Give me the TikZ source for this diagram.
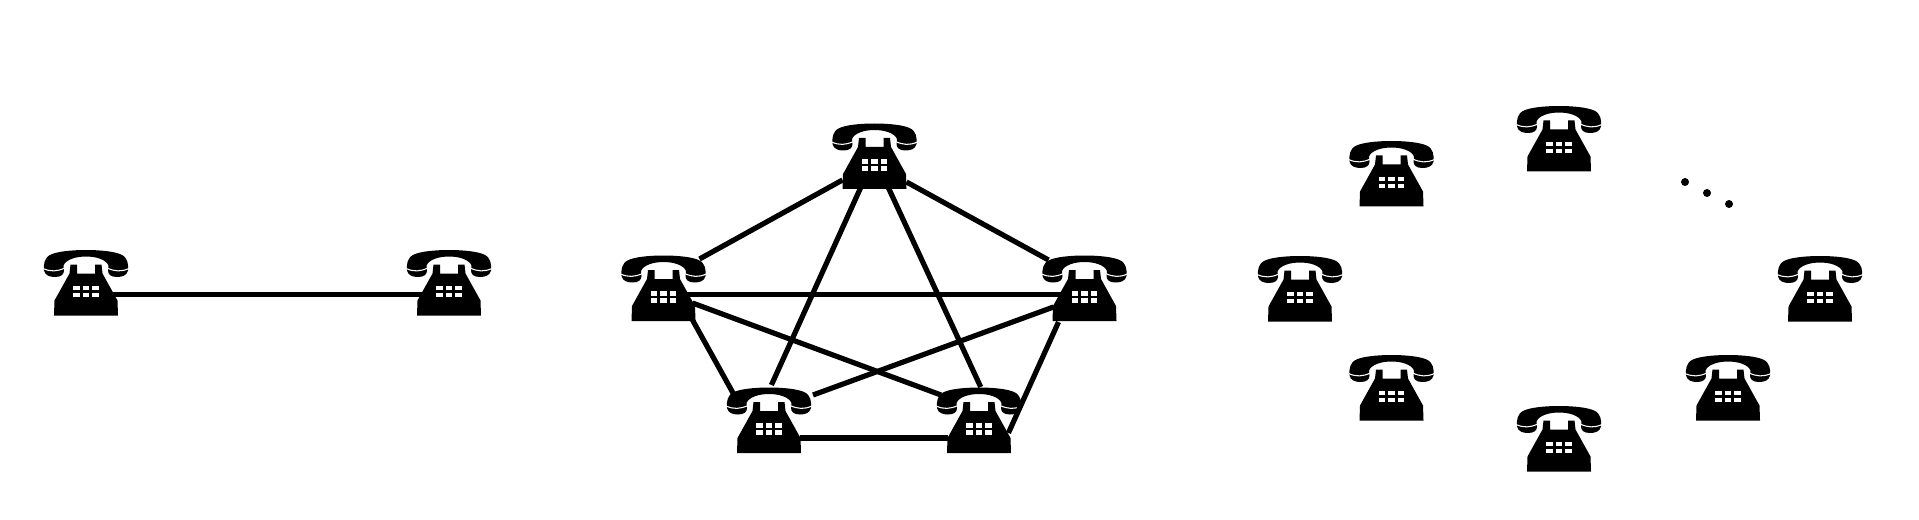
\documentclass[tikz,border=0pt]{standalone}
\newcommand{\phoneicon}{%
\tikz[x=0.75pt,y=-0.75pt]{
    \useasboundingbox (-42,-33.5) rectangle (42,33.5);
    % Handset
    \fill (-42,-12) .. controls (-42.5,-18) and (-42,-25) .. (-35,-28)
        .. controls (-22,-34) and (22,-34) .. (35,-28)
        .. controls (42,-25) and (42.5,-18) .. (42,-12)
        .. controls (41,-7) and (36,-5.5) .. (31,-5.5)
        .. controls (25,-5.5) and (22,-8) .. (22,-12)
        -- (22.5,-17) .. controls (20,-23) and (10,-26) .. (0,-26)
        .. controls (-10,-26) and (-20,-23) .. (-22.5,-17)
        -- (-22,-12) .. controls (-22,-8) and (-25,-5.5) .. (-31,-5.5)
        .. controls (-36,-5.5) and (-41,-7) .. (-42,-12) -- cycle;
    \draw[white, line width=0.8pt] (-43,-14) .. controls (-35,-10.5) and (-29,-11) .. (-21,-14.5);
    \draw[white, line width=0.8pt] (43,-14) .. controls (35,-10.5) and (29,-11) .. (21,-14.5);
    % Body
    \fill (-15.5,-18) -- (-9,-18) -- (-9,-9) -- (9,-9) -- (9,-18) -- (15.5,-18) -- (16.5,-9)
        -- (31.5,18) -- (32,33) -- (-32,33) -- (-31.5,18) -- (-16.5,-9) -- cycle;
    % Keys
    \foreach \keyx in {-9.5,0,9.5}
        \foreach \keyy in {5.5,12.5}
            \fill[white] (\keyx-3.2,\keyy-2.2) rectangle (\keyx+3.2,\keyy+2.2);
}}
\tikzset{
    phone/.style={inner sep=0pt, outer sep=0pt},
    wire/.style={line width=3.9pt},
    dot/.style={circle, fill, inner sep=0pt, minimum size=6pt}
}
\begin{document}
\begin{tikzpicture}[x=0.75pt,y=-0.75pt]
        \useasboundingbox (0,0) rectangle (1919,520);

        % Nodes
        \node(p) [phone] at (86,282.5) {\phoneicon};
        \node(q) [phone] at (449,282.5) {\phoneicon};

        \node(top) [phone] at (874.5,156) {\phoneicon};
        \node(lft) [phone] at (663.5,288) {\phoneicon};
        \node(rgt) [phone] at (1084.5,288) {\phoneicon};
        \node(bl) [phone] at (769,420) {\phoneicon};
        \node(br) [phone] at (979,420) {\phoneicon};

        \node(c1) [phone] at (1559,138.5) {\phoneicon};
        \node(c2) [phone] at (1391.5,173.5) {\phoneicon};
        \node(c3) [phone] at (1300,288.5) {\phoneicon};
        \node(c4) [phone] at (1391.5,387.5) {\phoneicon};
        \node(c5) [phone] at (1559,438.5) {\phoneicon};
        \node(c6) [phone] at (1728,387.5) {\phoneicon};
        \node(c7) [phone] at (1820,288.5) {\phoneicon};

        \node(d1) [dot] at (1685,182) {};
        \node(d2) [dot] at (1707,193) {};
        \node(d3) [dot] at (1729,204) {};

        % Edges
        \draw[wire] ([shift={(25,12)}]p.center) -- ([shift={(-25,12)}]q.center);

        \draw[wire] ([shift={(-32,24)}]top.center) -- ([shift={(36,-29)}]lft.center);
        \draw[wire] ([shift={(32,26)}]top.center) -- ([shift={(-36,-28)}]rgt.center);
        \draw[wire] ([shift={(-14,32)}]top.center) -- ([shift={(2.4,-35)}]bl.center);
        \draw[wire] ([shift={(14,32)}]top.center) -- ([shift={(1.7,-33)}]br.center);
        \draw[wire] ([shift={(22,6.5)}]lft.center) -- ([shift={(-22,6.5)}]rgt.center);
        \draw[wire] ([shift={(29,15)}]lft.center) -- ([shift={(-38,-25)}]br.center);
        \draw[wire] ([shift={(29,32)}]lft.center) -- ([shift={(-36,-27)}]bl.center);
        \draw[wire] ([shift={(-31,19)}]rgt.center) -- ([shift={(44,-25)}]bl.center);
        \draw[wire] ([shift={(-26,34)}]rgt.center) -- ([shift={(29.4,13)}]br.center);
        \draw[wire] ([shift={(31,18)}]bl.center) -- ([shift={(-31,18)}]br.center);
    \end{tikzpicture}
\end{document}
